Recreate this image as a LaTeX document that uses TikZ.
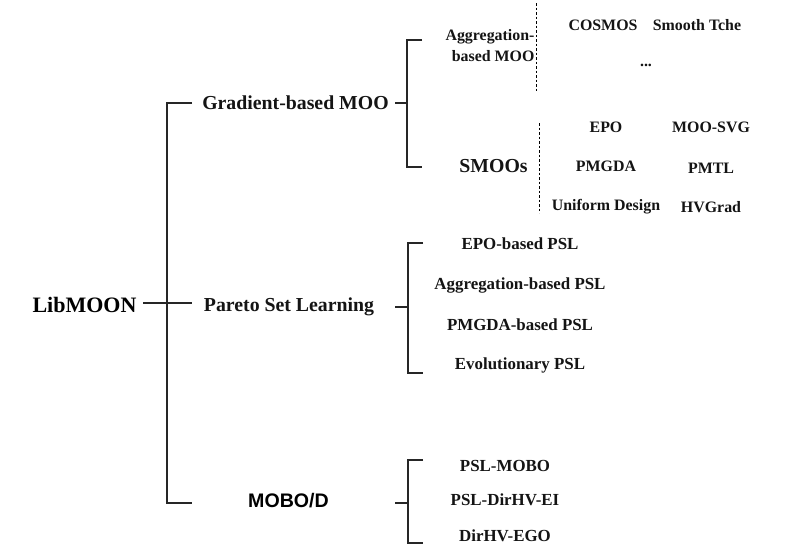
\documentclass[tikz,border=0pt]{standalone}
\usepackage{fontspec}
\setmainfont{Liberation Serif}
\newfontfamily\armsans{Liberation Sans}
\begin{document}
\begin{tikzpicture}[x=1pt,y=-1pt,
  br/.style={line width=1.8pt, draw=black!85},
  big/.style={font=\fontsize{19.8}{22}\selectfont\bfseries, text=black!92},
  small/.style={font=\fontsize{15.9}{21}\selectfont\bfseries, text=black!92},
  item/.style={font=\fontsize{16.9}{21}\selectfont\bfseries, text=black!92},
  dsh/.style={line width=0.8pt, dash pattern=on 2.5pt off 2pt}]
\useasboundingbox[fill=white] (0,0) rectangle (792,554);

% level 0 and 1
\node[font=\fontsize{22}{24}\selectfont\bfseries] (lib) at (84.5,305) {LibMOON};
\node[big] (grad) at (295.5,103) {Gradient-based MOO};
\node[big] (psl) at (289,307) {Pareto Set Learning};
\node[font=\armsans\fontsize{19.6}{21}\selectfont\bfseries] (mobo) at (288.5,501) {MOBO/D};

% level 2 (gradient)
\node[small, align=right] (agg) at (490,46) {Aggregation-\\based MOO};
\node[big] (smoo) at (493.5,166) {SMOOs};

\node[small] (cosmos) at (603,25) {COSMOS};
\node[small] (stche) at (697,25) {Smooth Tche};
\node[small] (dots) at (646,65) {...};
\node[small] (epo) at (606,127) {EPO};
\node[small] (moosvg) at (711,127) {MOO-SVG};
\node[small] (pmgda) at (606,166) {PMGDA};
\node[small] (pmtl) at (711,168) {PMTL};
\node[small] (ud) at (606,207) {Uniform Design};
\node[small] (hvgrad) at (711,207) {HVGrad};

% PSL items
\node[item] (p1) at (520,244) {EPO-based PSL};
\node[item] (p2) at (520,285) {Aggregation-based PSL};
\node[item] (p3) at (520,325) {PMGDA-based PSL};
\node[item] (p4) at (520,365) {Evolutionary PSL};

% MOBO items
\node[item] (q1) at (505,466) {PSL-MOBO};
\node[item] (q2) at (505,500) {PSL-DirHV-EI};
\node[item] (q3) at (505,536) {DirHV-EGO};

% main bracket
\coordinate (ls) at (143,303);
\coordinate (le) at (192,303);
\coordinate (mt) at (167,103);
\coordinate (mb) at (167,503);
\coordinate (mte) at (192,103);
\coordinate (mbe) at (192,503);
\draw[br] (ls) -- (le);
\draw[br] (mte) -- (mt) -- (mb) -- (mbe);

% gradient sub-bracket
\coordinate (g0) at (395,103);
\coordinate (g1) at (407,103);
\coordinate (gt) at (407,40);
\coordinate (gte) at (422,40);
\coordinate (gb) at (407,167);
\coordinate (gbe) at (422,167);
\draw[br] (g0) -- (g1);
\draw[br] (gte) -- (gt) -- (gb) -- (gbe);

% PSL sub-bracket
\coordinate (s0) at (395,307);
\coordinate (s1) at (408,307);
\coordinate (st) at (408,243);
\coordinate (ste) at (423,243);
\coordinate (sb) at (408,373);
\coordinate (sbe) at (423,373);
\draw[br] (s0) -- (s1);
\draw[br] (ste) -- (st) -- (sb) -- (sbe);

% MOBO sub-bracket
\coordinate (b0) at (395,503);
\coordinate (b1) at (408,503);
\coordinate (bt) at (408,460);
\coordinate (bte) at (423,460);
\coordinate (bb) at (408,543);
\coordinate (bbe) at (423,543);
\draw[br] (b0) -- (b1);
\draw[br] (bte) -- (bt) -- (bb) -- (bbe);

% dashed separators
\coordinate (d1t) at (536,3);
\coordinate (d1b) at (536,92);
\coordinate (d2t) at (539,123);
\coordinate (d2b) at (539,213);
\draw[dsh] (d1t) -- (d1b);
\draw[dsh] (d2t) -- (d2b);
\end{tikzpicture}
\end{document}
